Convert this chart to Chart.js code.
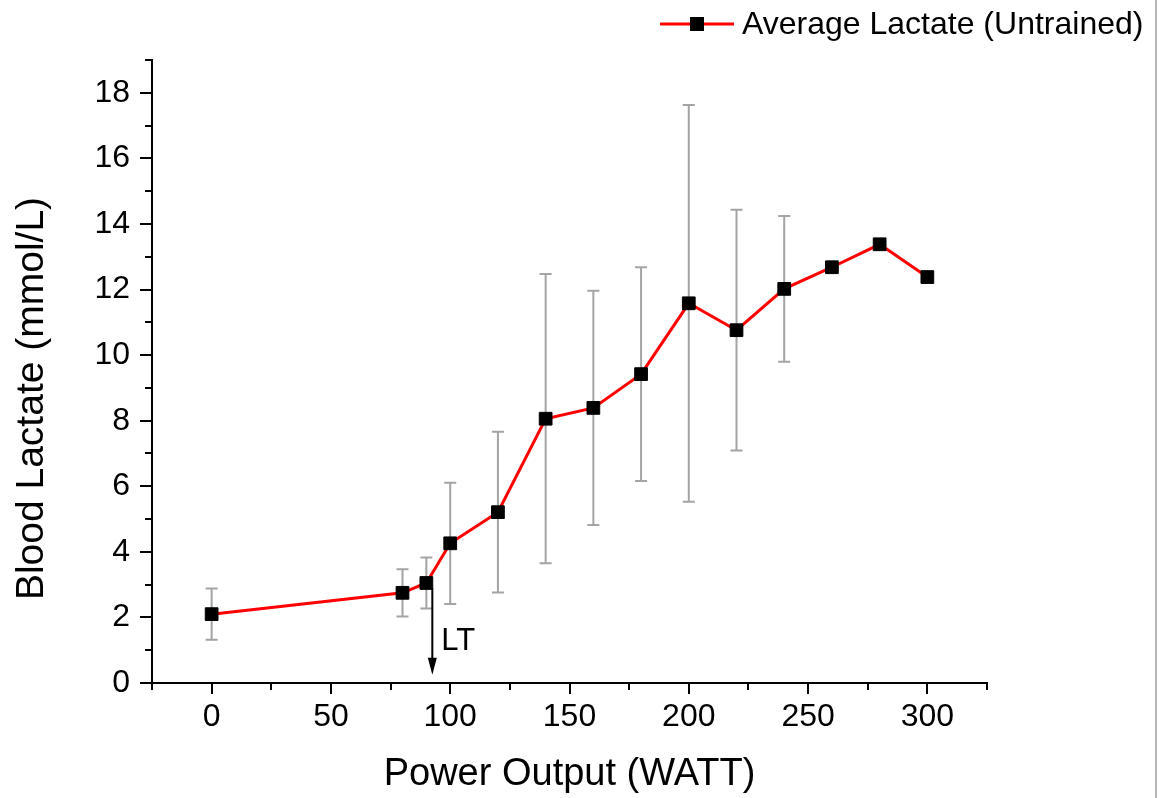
<!DOCTYPE html>
<html lang="en">
<head>
  <meta charset="UTF-8" />
  <title>Blood Lactate vs Power Output</title>
  <script src="https://cdn.jsdelivr.net/npm/chart.js@4.4.8/dist/chart.umd.min.js"></script>
  <style>
    html, body { margin: 0; padding: 0; background: #fff; overflow: hidden; }
    .frame { position: relative; width: 1159px; height: 798px; }
    .edge { position: absolute; left: 1155px; top: 0; width: 2px; height: 798px; background: #b4b4b4; }
  </style>
</head>
<body>
  <div class="frame">
    <canvas id="lactateChart" width="1159" height="798"></canvas>
    <div class="edge"></div>
  </div>

  <script>
    // measured stages (W) and mean blood lactate (mmol/L) with SD
    const watts     = [0, 80, 90, 100, 120, 140, 160, 180, 200, 220, 240, 260, 280, 300];
    const lactate   = [2.1, 2.75, 3.05, 4.26, 5.21, 8.06, 8.39, 9.42, 11.58, 10.76, 12.02, 12.68, 13.38, 12.38];
    const lactateSD = [0.78, 0.72, 0.78, 1.85, 2.45, 4.41, 3.57, 3.26, 6.05, 3.67, 2.22, 0.12, 0, 0];

    // labelled ticks (minor ticks fall in between)
    const xMajor = [0, 50, 100, 150, 200, 250, 300];
    const yMajor = [0, 2, 4, 6, 8, 10, 12, 14, 16, 18];

    // lactate threshold marker
    const ltWatt = 92.5;
    const ltFrom = 2.9;
    const ltTo = 0.25;

    const FONT = '"Liberation Sans", Arial, sans-serif';
    const LINE_RED = '#ff0000';

    const extras = {
      id: 'extras',
      beforeDatasetsDraw(chart) {
        const { ctx, scales: { x, y } } = chart;
        ctx.save();
        ctx.strokeStyle = '#a4a4a4';
        ctx.lineWidth = 2;
        watts.forEach((w, i) => {
          const sd = lactateSD[i];
          if (!sd) return;
          const px = x.getPixelForValue(w);
          const top = y.getPixelForValue(lactate[i] + sd);
          const bot = y.getPixelForValue(lactate[i] - sd);
          ctx.beginPath();
          ctx.moveTo(px, top); ctx.lineTo(px, bot);
          ctx.moveTo(px - 6, top); ctx.lineTo(px + 6, top);
          ctx.moveTo(px - 6, bot); ctx.lineTo(px + 6, bot);
          ctx.stroke();
        });
        ctx.restore();
      },
      afterDraw(chart) {
        const { ctx, chartArea, scales: { x, y } } = chart;
        ctx.save();

        // outward tick marks, long for labelled values
        ctx.strokeStyle = '#000';
        ctx.lineWidth = 2;
        ctx.beginPath();
        x.ticks.forEach(t => {
          const px = Math.round(x.getPixelForValue(t.value));
          const len = xMajor.includes(t.value) ? 11 : 7;
          ctx.moveTo(px, chartArea.bottom);
          ctx.lineTo(px, chartArea.bottom + len);
        });
        y.ticks.forEach(t => {
          const py = Math.round(y.getPixelForValue(t.value));
          const len = yMajor.includes(t.value) ? 12 : 7;
          ctx.moveTo(chartArea.left - len, py);
          ctx.lineTo(chartArea.left, py);
        });
        ctx.stroke();

        // y axis title
        ctx.save();
        ctx.translate(32, (chartArea.top + chartArea.bottom) / 2 + 27);
        ctx.rotate(-Math.PI / 2);
        ctx.fillStyle = '#000';
        ctx.font = '39px ' + FONT;
        ctx.textAlign = 'center';
        ctx.textBaseline = 'middle';
        ctx.fillText('Blood Lactate (mmol/L)', 0, 0);
        ctx.restore();

        // LT arrow
        const ax = x.getPixelForValue(ltWatt);
        const a0 = y.getPixelForValue(ltFrom);
        const a1 = y.getPixelForValue(ltTo);
        ctx.fillStyle = '#000';
        ctx.beginPath();
        ctx.moveTo(ax, a0);
        ctx.lineTo(ax, a1 - 14);
        ctx.stroke();
        ctx.beginPath();
        ctx.moveTo(ax - 4.5, a1 - 17);
        ctx.lineTo(ax + 4.5, a1 - 17);
        ctx.lineTo(ax, a1);
        ctx.closePath();
        ctx.fill();
        ctx.font = '31px ' + FONT;
        ctx.textAlign = 'left';
        ctx.textBaseline = 'middle';
        ctx.fillText('LT', ax + 9, a0 + 54);

        // legend
        const ds = chart.data.datasets[0];
        ctx.strokeStyle = ds.borderColor;
        ctx.lineWidth = 3;
        ctx.beginPath();
        ctx.moveTo(660, 24);
        ctx.lineTo(734, 24);
        ctx.stroke();
        ctx.fillStyle = ds.pointBackgroundColor;
        ctx.fillRect(690, 17, 14, 14);
        ctx.font = '32px ' + FONT;
        ctx.fillText(ds.label, 742, 25);

        ctx.restore();
      }
    };

    new Chart(document.getElementById('lactateChart'), {
      type: 'line',
      data: {
        datasets: [{
          label: 'Average Lactate (Untrained)',
          data: watts.map((w, i) => ({ x: w, y: lactate[i] })),
          borderColor: LINE_RED,
          borderWidth: 3,
          pointStyle: 'rect',
          pointRadius: 9,
          pointBorderWidth: 1,
          pointBorderColor: '#000',
          pointBackgroundColor: '#000',
          tension: 0,
          clip: false
        }]
      },
      options: {
        responsive: false,
        animation: false,
        devicePixelRatio: 1,
        layout: { padding: { top: 60, right: 172, bottom: 0, left: 0 } },
        plugins: {
          legend: { display: false },
          tooltip: { enabled: false }
        },
        scales: {
          x: {
            type: 'linear',
            min: -25,
            max: 325,
            ticks: {
              stepSize: 25,
              autoSkip: false,
              maxRotation: 0,
              padding: 15,
              color: '#000',
              font: { family: FONT, size: 32 },
              callback: v => xMajor.includes(v) ? String(v) : ''
            },
            grid: { display: false, drawTicks: false },
            border: { display: true, color: '#000', width: 2 },
            title: {
              display: true,
              text: 'Power Output (WATT)',
              color: '#000',
              font: { family: FONT, size: 38 },
              padding: { top: 0, bottom: 1 }
            },
            afterFit: s => { s.height = 115; }
          },
          y: {
            type: 'linear',
            min: 0,
            max: 19,
            ticks: {
              stepSize: 1,
              autoSkip: false,
              padding: 22,
              color: '#000',
              font: { family: FONT, size: 32 },
              callback: v => yMajor.includes(v) ? String(v) : ''
            },
            grid: { display: false, drawTicks: false },
            border: { display: true, color: '#000', width: 2 },
            afterFit: s => { s.width = 152; }
          }
        }
      },
      plugins: [extras]
    });
  </script>
</body>
</html>
